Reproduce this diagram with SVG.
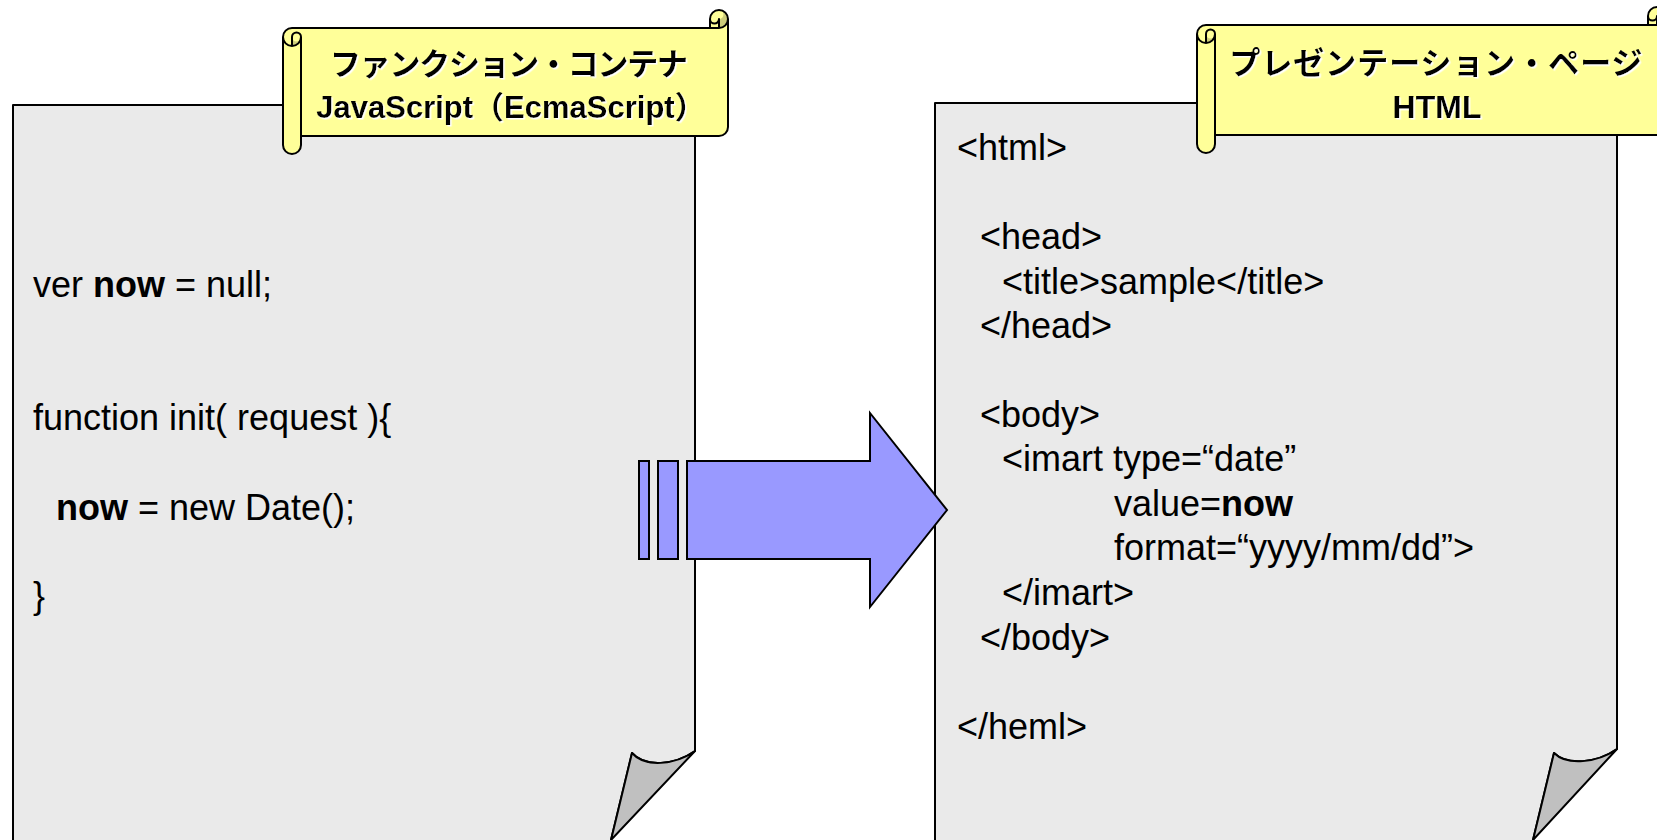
<svg xmlns="http://www.w3.org/2000/svg" width="1657" height="840" viewBox="0 0 1657 840">
<defs>
<style>
.page{fill:#EAEAEA;stroke:#000;stroke-width:2;stroke-linejoin:round}
.curl{fill:#C0C0C0;stroke:#000;stroke-width:2;stroke-linejoin:round}
.scroll{fill:#FFFF99;stroke:none}
.dark{fill:#CCCC7A;stroke:none}
.line{fill:none;stroke:#000;stroke-width:2;stroke-linejoin:round;stroke-linecap:round}
.code{font-family:"Liberation Sans","Noto Sans CJK JP",sans-serif;font-size:36px;fill:#000}
.b{font-weight:bold}
.title{font-family:"Noto Sans CJK JP",sans-serif;font-weight:bold;font-size:31px;fill:#000;text-anchor:middle;filter:url(#sh)}
.sub{font-family:"Liberation Sans","Noto Sans CJK JP",sans-serif;font-weight:bold;font-size:31px;fill:#000;text-anchor:middle;filter:url(#sh)}
.arrow{fill:#9999FF;stroke:#000;stroke-width:2;stroke-linejoin:miter}
</style>
<filter id="sh" x="-5%" y="-20%" width="110%" height="140%">
<feDropShadow dx="1.5" dy="1.5" stdDeviation="0" flood-color="#FFFFFF" flood-opacity="1"/>
</filter>
</defs>
<rect width="1657" height="840" fill="#FFFFFF"/>

<g id="page-function">
<path class="page" d="M13,105 H695 V751 C675,765 645,768 632,753 L611,840 L608,850 H13 Z"/>
<path class="curl" d="M632,753 C645,768 675,765 695,751 L611,840 Z"/>
<text class="code" x="33" y="297">ver <tspan class="b">now</tspan> = null;</text>
<text class="code" x="33" y="430">function init( request ){</text>
<text class="code" x="56" y="520"><tspan class="b">now</tspan> = new Date();</text>
<text class="code" x="33" y="608">}</text>
</g>

<g id="page-presentation">
<path class="page" d="M935,103 H1617 V749 C1597,763 1567,766 1554,753 L1533,840 L1530,850 H935 Z"/>
<path class="curl" d="M1554,753 C1567,766 1597,763 1617,749 L1533,840 Z"/>
<text class="code" x="957" y="160">&lt;html&gt;</text>
<text class="code" x="980" y="249">&lt;head&gt;</text>
<text class="code" x="1002" y="294">&lt;title&gt;sample&lt;/title&gt;</text>
<text class="code" x="980" y="338">&lt;/head&gt;</text>
<text class="code" x="980" y="427">&lt;body&gt;</text>
<text class="code" x="1002" y="471">&lt;imart type=“date”</text>
<text class="code" x="1114" y="516">value=<tspan class="b">now</tspan></text>
<text class="code" x="1114" y="560">format=“yyyy/mm/dd”&gt;</text>
<text class="code" x="1002" y="605">&lt;/imart&gt;</text>
<text class="code" x="980" y="650">&lt;/body&gt;</text>
<text class="code" x="957" y="739">&lt;/heml&gt;</text>
</g>

<g id="connectors">
<rect class="arrow" x="639" y="461" width="10" height="98"/>
<rect class="arrow" x="658" y="461" width="20" height="98"/>
<path class="arrow" d="M687,461 H870 V413 L947,510 L870,607 V559 H687 Z"/>
</g>

<g id="banner-function">
<g transform="translate(283,10)">
<path class="scroll" d="M0,27 A9,9 0 0 1 9,18 L427,18 L427,9 A9,9 0 0 1 445,9 L445,117 A9,9 0 0 1 436,126 L18,126 L18,135 A9,9 0 0 1 0,135 Z"/>
<path class="dark" d="M9,36 A9,9 0 0 0 18,27 A4.5,4.5 0 0 1 9,27 Z"/>
<path class="dark" d="M436,18 A9,9 0 0 0 436,0 A4.5,4.5 0 0 1 436,9 Z"/>
<path class="line" d="M0,27 A9,9 0 0 1 9,18 L427,18 L427,9 A9,9 0 0 1 445,9 L445,117 A9,9 0 0 1 436,126 L18,126 L18,135 A9,9 0 0 1 0,135 Z M427,18 L436,18 A9,9 0 0 0 445,9 M436,18 L436,9 A4.5,4.5 0 0 1 427,9 M9,36 L9,27 A4.5,4.5 0 0 1 18,27 A9,9 0 0 1 0,27 M18,27 L18,126"/>
</g>
<text class="title" x="509" y="75" textLength="358">ファンクション・コンテナ</text>
<text class="sub" x="511" y="118">JavaScript（EcmaScript）</text>
</g>

<g id="banner-presentation">
<g transform="translate(1197,7)">
<path class="scroll" d="M0,27 A9,9 0 0 1 9,18 L451,18 L451,9 A9,9 0 0 1 469,9 L469,119 A9,9 0 0 1 460,128 L18,128 L18,137 A9,9 0 0 1 0,137 Z"/>
<path class="dark" d="M9,36 A9,9 0 0 0 18,27 A4.5,4.5 0 0 1 9,27 Z"/>
<path class="dark" d="M460,18 A9,9 0 0 0 460,0 A4.5,4.5 0 0 1 460,9 Z"/>
<path class="line" d="M0,27 A9,9 0 0 1 9,18 L451,18 L451,9 A9,9 0 0 1 469,9 L469,119 A9,9 0 0 1 460,128 L18,128 L18,137 A9,9 0 0 1 0,137 Z M451,18 L460,18 A9,9 0 0 0 469,9 M460,18 L460,9 A4.5,4.5 0 0 1 451,9 M9,36 L9,27 A4.5,4.5 0 0 1 18,27 A9,9 0 0 1 0,27 M18,27 L18,128"/>
</g>
<text class="title" x="1436" y="74" textLength="413">プレゼンテーション・ページ</text>
<text class="sub" x="1437" y="118" style="font-size:32px">HTML</text>
</g>
</svg>
